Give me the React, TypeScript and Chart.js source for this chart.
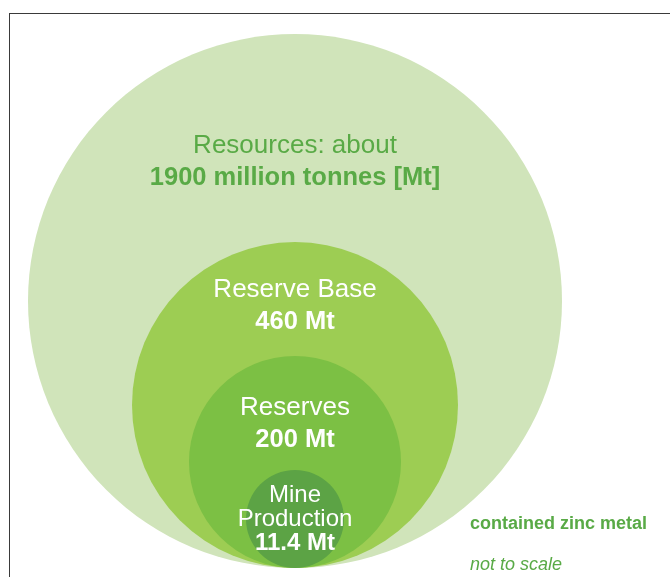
import React, { useEffect, useRef } from "react";
import { Chart, registerables } from "chart.js";

Chart.register(...registerables);

// Data
const categories = ["Resources", "Reserve Base", "Reserves", "Mine Production"];
const valuesMt = [1900, 460, 200, 11.4];
// Diagram radii ("not to scale"), all circles rest on a common baseline y = 0
const diagramRadius = [267, 163, 106, 49];
const labelLines = [
  ["Resources: about", "1900 million tonnes [Mt]"],
  ["Reserve Base", "460 Mt"],
  ["Reserves", "200 Mt"],
  ["Mine", "Production", "11.4 Mt"],
];
const noteLines = ["contained zinc metal", "not to scale"];

const circleColors = ["#d0e4ba", "#9dcd53", "#7cc044", "#5ca345"];
const textColors = ["#59aa46", "#ffffff", "#ffffff", "#ffffff"];
const FONT = "'Liberation Sans', Arial, Helvetica, sans-serif";

// label style: baseline offsets from circle top (px), font sizes, bold flags
const labelStyle = [
  { offsets: [119, 151], sizes: [26, 25.5], bold: [false, true] },
  { offsets: [55, 87], sizes: [26, 25.5], bold: [false, true] },
  { offsets: [59, 91], sizes: [26, 25.5], bold: [false, true] },
  { offsets: [32, 56, 80], sizes: [24, 24, 24], bold: [false, false, true] },
];

const labelPlugin = {
  id: "circleLabels",
  afterDatasetsDraw(chart: any) {
    const ctx = chart.ctx;
    const xs = chart.scales.x;
    const ys = chart.scales.y;
    ctx.save();
    ctx.textAlign = "center";
    ctx.textBaseline = "alphabetic";
    categories.forEach((_, i) => {
      const cx = xs.getPixelForValue(0);
      const top = ys.getPixelForValue(2 * diagramRadius[i]);
      const st = labelStyle[i];
      labelLines[i].forEach((line, j) => {
        ctx.font = `${st.bold[j] ? "bold " : ""}${st.sizes[j]}px ${FONT}`;
        ctx.fillStyle = textColors[i];
        ctx.fillText(line, cx, top + st.offsets[j]);
      });
    });
    // notes
    ctx.textAlign = "left";
    ctx.fillStyle = "#59aa46";
    ctx.font = `bold 18px ${FONT}`;
    ctx.fillText(noteLines[0], 470, 529);
    ctx.font = `italic 18px ${FONT}`;
    ctx.fillText(noteLines[1], 470, 570);
    ctx.restore();
  },
};

export default function App() {
  const ref = useRef<HTMLCanvasElement | null>(null);
  useEffect(() => {
    if (!ref.current) return;
    const radiusPx = (ctx: any) => {
      const s = ctx.chart.scales.x;
      const r = diagramRadius[ctx.dataIndex];
      if (!s) return 0;
      return Math.abs(s.getPixelForValue(r) - s.getPixelForValue(0));
    };
    const chart = new Chart(ref.current, {
      type: "scatter",
      data: {
        labels: categories,
        datasets: [
          {
            label: "contained zinc metal",
            data: diagramRadius.map((r) => ({ x: 0, y: r })),
            backgroundColor: circleColors,
            borderWidth: 0,
            pointRadius: radiusPx as any,
            pointHoverRadius: radiusPx as any,
          } as any,
        ],
      },
      options: {
        animation: false,
        responsive: true,
        maintainAspectRatio: false,
        events: [],
        layout: { padding: 0, autoPadding: false } as any,
        clip: false as any,
        plugins: { legend: { display: false }, tooltip: { enabled: false } },
        scales: {
          x: { type: "linear", display: false, min: -295, max: 375 },
          y: { type: "linear", display: false, min: -9, max: 568 },
        },
      },
      plugins: [labelPlugin],
    });
    return () => chart.destroy();
  }, []);

  return (
    <div
      style={{
        position: "fixed",
        left: 0,
        top: 0,
        width: 670,
        height: 577,
        background: "#ffffff",
        overflow: "hidden",
      }}
    >
      <canvas ref={ref} />
      <div
        style={{
          position: "absolute",
          left: 9,
          top: 13,
          width: 700,
          height: 600,
          borderLeft: "1px solid #3a3a3a",
          borderTop: "1px solid #3a3a3a",
          pointerEvents: "none",
        }}
      />
    </div>
  );
}
